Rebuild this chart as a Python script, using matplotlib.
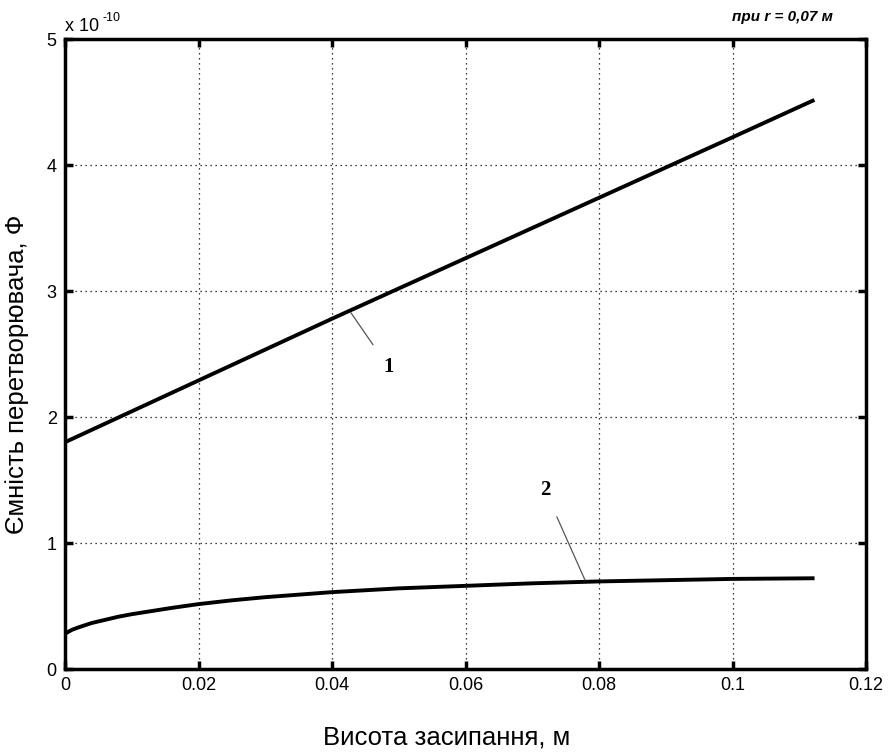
import matplotlib
matplotlib.use('Agg')
import matplotlib.pyplot as plt
import numpy as np

plt.rcParams['font.family'] = ['Liberation Sans', 'DejaVu Sans']

# data (capacitance in units of 1e-10 F)
h1 = [0.0, 0.02, 0.04, 0.06, 0.08, 0.10, 0.112]
c1 = [1.80, 2.29, 2.78, 3.26, 3.74, 4.22, 4.51]

h2 = [0.0, 0.001, 0.002, 0.004, 0.006, 0.008, 0.01, 0.013, 0.016, 0.02, 0.025, 0.03,
      0.035, 0.04, 0.05, 0.06, 0.07, 0.08, 0.09, 0.10, 0.112]
c2 = [0.28, 0.31, 0.33, 0.365, 0.39, 0.415, 0.435, 0.46, 0.485, 0.515, 0.545, 0.57,
      0.59, 0.61, 0.64, 0.66, 0.68, 0.695, 0.705, 0.715, 0.72]

xticks = [0, 0.02, 0.04, 0.06, 0.08, 0.1, 0.12]
xticklabels = ['0', '0.02', '0.04', '0.06', '0.08', '0.1', '0.12']
yticks = [0, 1, 2, 3, 4, 5]

fig = plt.figure(figsize=(8.88, 7.53), dpi=100)
ax = fig.add_axes([65/888, 1 - 669/753, (866-65)/888, (669-39)/753])

ax.plot(h1, c1, color='black', lw=2.8)
ax.plot(h2, c2, color='black', lw=2.8)

ax.set_xlim(0, 0.12)
ax.set_ylim(0, 5)
ax.set_xticks(xticks)
ax.set_xticklabels(xticklabels)
ax.set_yticks(yticks)
ax.tick_params(direction='in', length=6, width=2.5, labelsize=13, pad=6,
               top=True, right=True)
for s in ax.spines.values():
    s.set_linewidth(2.5)
ax.grid(True, color='black', linestyle=(0, (1, 3)), linewidth=0.9)

# annotations
ax.annotate('1', xy=(0.0428, 2.83), xytext=(0.0484, 2.40), fontsize=15,
            fontweight='bold', family='Liberation Serif', ha='center', va='center',
            arrowprops=dict(arrowstyle='-', color='#555555', lw=0.9, shrinkA=9, shrinkB=0))
ax.annotate('2', xy=(0.0779, 0.706), xytext=(0.0719, 1.42), fontsize=15,
            fontweight='bold', family='Liberation Serif', ha='center', va='center',
            arrowprops=dict(arrowstyle='-', color='#555555', lw=0.9, shrinkA=11, shrinkB=0))

fig.text(65/888, 1 - 31/753, 'x 10', fontsize=13, ha='left', va='baseline')
fig.text(102/888, 1 - 21/753, '-10', fontsize=9, ha='left', va='baseline')
fig.text(833/888, 1 - 21/753, 'при r = 0,07 м', fontsize=11, fontweight='bold',
         style='italic', ha='right', va='baseline')

fig.text(447/888, 1 - 737/753, 'Висота засипання, м', fontsize=18.5, ha='center', va='center')
fig.text(17/888, 1 - 374/753, 'Ємність перетворювача, Ф', fontsize=18.5,
         rotation=90, ha='center', va='center')

fig.savefig('out.png', dpi=100)
